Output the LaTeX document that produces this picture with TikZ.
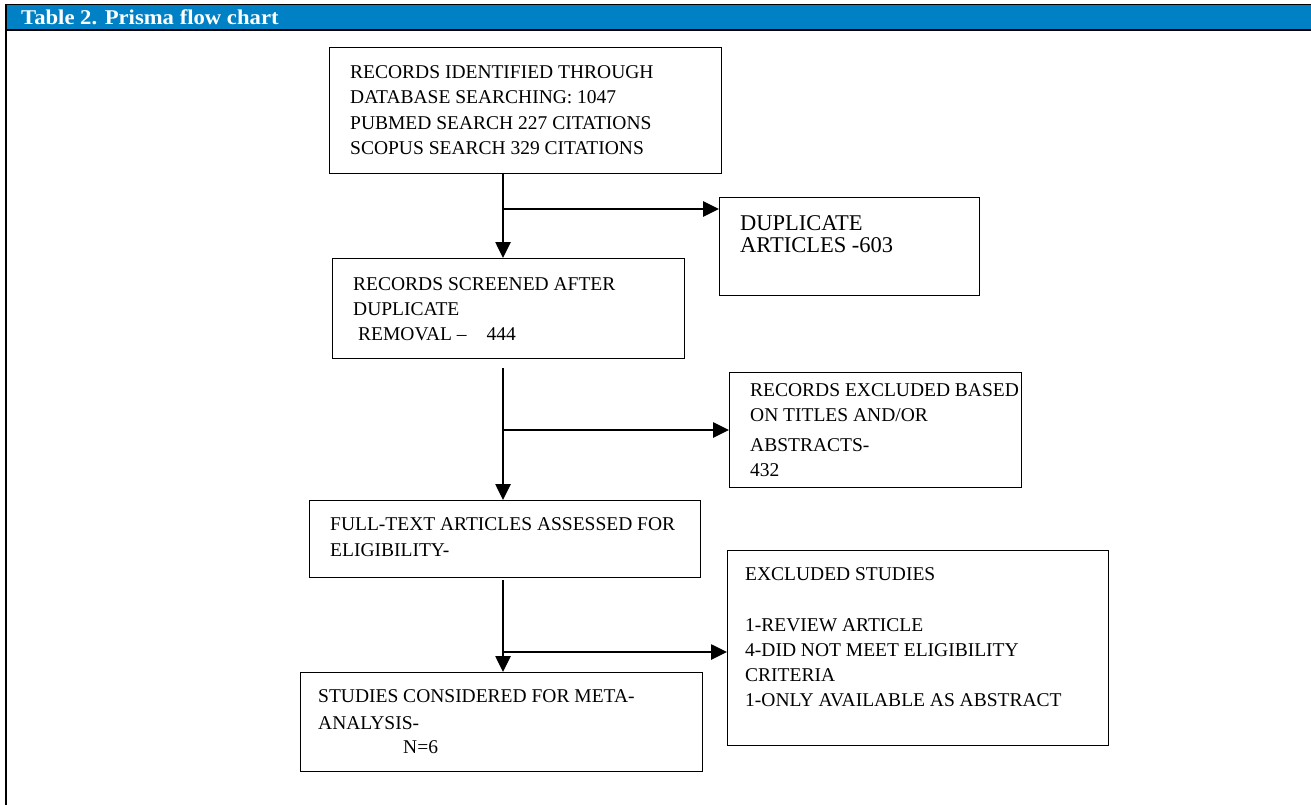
\documentclass[tikz,border=0pt]{standalone}
\usepackage{fontspec}
\setmainfont{Liberation Serif}
\usetikzlibrary{arrows.meta}
\definecolor{hdrblue}{HTML}{0081C6}
\tikzset{
  box/.style={draw, line width=1.2pt, anchor=north west, inner sep=0pt},
  txt/.style={anchor=north west, inner sep=0pt, align=left, font=\fontsize{19.5}{25.5}\selectfont},
  flow/.style={line width=2.6pt, -{Triangle[length=16pt,width=15pt]}},
}
\begin{document}
\begin{tikzpicture}[x=1pt,y=-1pt]
  \useasboundingbox (0,0) rectangle (1311,805);
  % table head
  \fill[hdrblue] (5,4) rectangle (1311,30);
  \draw[line width=1.8pt] (1311,4.5) -- (6,4.5) -- (6,805);
  \draw[line width=1.8pt] (6,30) -- (1311,30);
  \node[anchor=base west, inner sep=0pt, text=white,
        font=\fontsize{21}{24}\selectfont\bfseries\addfontfeature{FakeStretch=1.08}] (head) at (21,25) {Table 2. Prisma flow chart};

  % boxes
  \node[box, minimum width=392pt, minimum height=126pt] (ident) at (329,47) {};
  \node[box, minimum width=352pt, minimum height=100pt] (screen) at (332,258) {};
  \node[box, minimum width=260pt, minimum height=98pt] (dup) at (719,197) {};
  \node[box, minimum width=292pt, minimum height=115pt] (excl) at (729,372) {};
  \node[box, minimum width=391pt, minimum height=77pt] (full) at (309,500) {};
  \node[box, minimum width=381pt, minimum height=195pt] (exstud) at (727,550) {};
  \node[box, minimum width=402pt, minimum height=99pt] (incl) at (300,672) {};

  % box texts
  \node[txt] (identtxt) at (350,65) {RECORDS IDENTIFIED THROUGH\\DATABASE SEARCHING: 1047\\PUBMED SEARCH 227 CITATIONS\\SCOPUS SEARCH 329 CITATIONS};
  \node[txt] (screentxt) at (353,277) {RECORDS SCREENED AFTER\\DUPLICATE\\[-1pt]\hspace*{5pt}REMOVAL –\hspace*{20pt}444};
  \node[txt, font=\fontsize{22.5}{22}\selectfont] (duptxt) at (740,215) {DUPLICATE\\ARTICLES -603};
  \begin{scope}
    \clip (729,372) rectangle (1021,476.5);
    \node[txt] (excltxt) at (750,383) {RECORDS EXCLUDED BASED\\[-0.5pt]ON TITLES AND/OR\\[4.5pt]ABSTRACTS-\\[-0.5pt]432};
  \end{scope}
  \node[txt] (fulltxt) at (330,517) {FULL-TEXT ARTICLES ASSESSED FOR\\[1pt]ELIGIBILITY-};
  \node[txt] (exstudtxt) at (745,567) {EXCLUDED STUDIES\\[25.5pt]1-REVIEW ARTICLE\\[-0.5pt]4-DID NOT MEET ELIGIBILITY\\[-0.5pt]CRITERIA\\[-0.5pt]1-ONLY AVAILABLE AS ABSTRACT};
  \node[txt] (incltxt) at (318,689) {STUDIES CONSIDERED FOR META-\\[1.5pt]ANALYSIS-\\[-1.5pt]\hspace*{85pt}N=6};

  % flow
  \coordinate (v1) at (503,173);
  \coordinate (j1) at (503,209);
  \coordinate (v2) at (503,368);
  \coordinate (j2) at (503,430);
  \coordinate (v3) at (503,580);
  \coordinate (j3) at (503,652);
  \begin{scope}
    \draw[flow] (v1) -- (v1 |- screen.north);
    \draw[flow] (j1) -- (j1 -| dup.west);
    \draw[flow] (v2) -- (v2 |- full.north);
    \draw[flow] (j2) -- (j2 -| excl.west);
    \draw[flow] (v3) -- (v3 |- incl.north);
    \draw[flow] (j3) -- (j3 -| exstud.west);
  \end{scope}
\end{tikzpicture}
\end{document}
